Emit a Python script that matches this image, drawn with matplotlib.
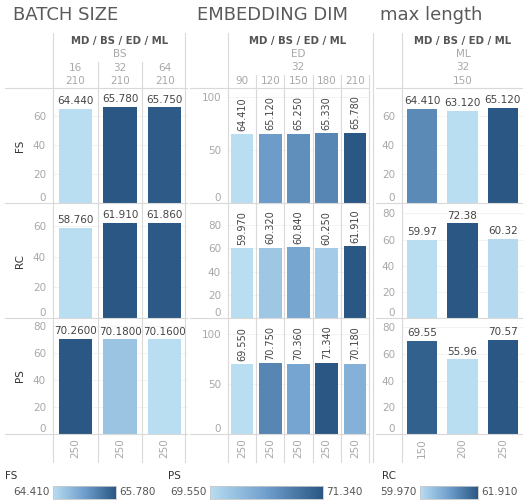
import numpy as np
import matplotlib.pyplot as plt
from matplotlib.colors import LinearSegmentedColormap, Normalize
from matplotlib.lines import Line2D

W, H = 523, 504

# ---- data ----
bs_cols = ["16", "32", "64"]
bs_fs = [64.44, 65.78, 65.75]
bs_rc = [58.76, 61.91, 61.86]
bs_ps = [70.26, 70.18, 70.16]

ed_cols = ["90", "120", "150", "180", "210"]
ed_fs = [64.41, 65.12, 65.25, 65.33, 65.78]
ed_rc = [59.97, 60.32, 60.84, 60.25, 61.91]
ed_ps = [69.55, 70.75, 70.36, 71.34, 70.18]

ml_cols = ["150"]
ml_fs = [64.41, 63.12, 65.12]
ml_rc = [59.97, 72.38, 60.32]
ml_ps = [69.55, 55.96, 70.57]

bs_bottom = ["250", "250", "250"]
ed_bottom = ["250", "250", "250", "250", "250"]
ml_bottom = ["150", "200", "250"]

row_names = ["FS", "RC", "PS"]

cmap = LinearSegmentedColormap.from_list("tab_blue", ["#b9ddf1", "#6f9fcd", "#2a5783"])
LC = "#d9d9d9"
GRAY = "#a8a8a8"

fig = plt.figure(figsize=(W / 100, H / 100), dpi=100)


def fx(x):
    return x / W


def fy(y):
    return 1 - y / H


def hline(x0, x1, y):
    fig.add_artist(Line2D([fx(x0), fx(x1)], [fy(y), fy(y)], transform=fig.transFigure, color=LC, lw=0.8))


def vline(x, y0, y1):
    fig.add_artist(Line2D([fx(x), fx(x)], [fy(y0), fy(y1)], transform=fig.transFigure, color=LC, lw=0.8))


def text(x, y, s, **kw):
    kw.setdefault("ha", "center")
    kw.setdefault("va", "center")
    fig.text(fx(x), fy(y), s, **kw)


rows_px = [(88, 203), (203, 318), (318, 434)]

panels = [
    dict(title="BATCH SIZE", tx=13, left=53, right=187, line_l=5, hx=120,
         sub=["BS"], cols=bs_cols, cols2=["210", "210", "210"],
         data=[bs_fs, bs_rc, bs_ps], bottom=bs_bottom,
         ylims=[79, 75, 86], ticks=[[0, 20, 40, 60], [0, 20, 40, 60], [0, 20, 40, 60, 80]],
         fmts=["{:.3f}", "{:.3f}", "{:.4f}"], rot=0, fs=7.5, bw=0.74),
    dict(title="EMBEDDING DIM", tx=197, left=228, right=369, line_l=190, hx=298,
         sub=["ED", "32"], cols=ed_cols, cols2=None,
         data=[ed_fs, ed_rc, ed_ps], bottom=ed_bottom,
         ylims=[108, 99, 116], ticks=[[0, 50, 100], [0, 20, 40, 60, 80], [0, 50, 100]],
         fmts=["{:.3f}", "{:.3f}", "{:.3f}"], rot=90, fs=7, bw=0.8),
    dict(title="max length", tx=380, left=402, right=523, line_l=376, hx=463,
         sub=["ML", "32"], cols=ml_cols, cols2=None,
         data=[ml_fs, ml_rc, ml_ps], bottom=ml_bottom,
         ylims=[79, 88, 87], ticks=[[0, 20, 40, 60], [0, 20, 40, 60, 80], [0, 20, 40, 60, 80]],
         fmts=["{:.3f}", "{:.2f}", "{:.2f}"], rot=0, fs=7.5, bw=0.75),
]

for p in panels:
    n = len(p["data"][0])
    text(p["tx"], 15, p["title"], ha="left", fontsize=13, color="#5a5a5a")
    text(p["hx"], 41, "MD / BS / ED / ML", fontsize=7.3, fontweight="bold", color="#555555")
    for k, s in enumerate(p["sub"]):
        text(p["hx"], 54 + 13.5 * k, s, fontsize=7.5, color=GRAY)
    colw = (p["right"] - p["left"]) / n
    if p["cols2"] is not None:
        for i in range(n):
            cx = p["left"] + colw * (i + 0.5)
            text(cx, 68, p["cols"][i], fontsize=7.5, color=GRAY)
            text(cx, 81, p["cols2"][i], fontsize=7.5, color=GRAY)
    elif len(p["cols"]) == n:
        for i in range(n):
            cx = p["left"] + colw * (i + 0.5)
            text(cx, 81, p["cols"][i], fontsize=7.5, color=GRAY)
    else:
        text(p["hx"], 81, p["cols"][0], fontsize=7.5, color=GRAY)

    for r, (y0, y1) in enumerate(rows_px):
        vals = p["data"][r]
        ax = fig.add_axes([fx(p["left"]), fy(y1), (p["right"] - p["left"]) / W, (y1 - y0) / H])
        norm = Normalize(min(vals), max(vals))
        ax.bar(range(n), vals, width=p["bw"], color=cmap(norm(vals)))
        ax.set_xlim(-0.5, n - 0.5)
        ax.set_ylim(0, p["ylims"][r])
        ax.set_yticks(p["ticks"][r])
        for s in ax.spines.values():
            s.set_visible(False)
        ax.yaxis.grid(True, color="#f1f1f1", lw=0.6)
        ax.set_axisbelow(True)
        ax.tick_params(axis="y", length=0, labelsize=7.5, labelcolor=GRAY, pad=5)
        ppu = (y1 - y0) / p["ylims"][r]
        labs = ax.get_yticklabels()
        labs[0].set_va("bottom")
        for t, lab in zip(p["ticks"][r], labs):
            if (p["ylims"][r] - t) * ppu < 6:
                lab.set_va("top")
        if r == 2:
            ax.set_xticks(range(n), p["bottom"], rotation=90)
            ax.tick_params(axis="x", length=0, labelsize=7.5, labelcolor=GRAY, pad=3)
        else:
            ax.set_xticks([])
        for i, v in enumerate(vals):
            if p["rot"] == 90:
                ax.annotate(p["fmts"][r].format(v), (i, v), xytext=(0, 2.5), textcoords="offset points",
                            ha="center", va="bottom", rotation=90, fontsize=p["fs"], color="#444444")
            else:
                ax.annotate(p["fmts"][r].format(v), (i, v), xytext=(0, 2), textcoords="offset points",
                            ha="center", va="bottom", fontsize=p["fs"], color="#444444")
        if p is panels[0]:
            text(20, (y0 + y1) / 2, row_names[r], rotation=90, fontsize=7.5, color="#333333")

    # grid lines of the table
    for y in [88, 203, 318, 434]:
        hline(p["line_l"], p["right"], y)
    vline(p["left"], 33, 462)
    for i in range(1, n):
        if p["cols2"] is not None:
            vline(p["left"] + colw * i, 62, 462)
        elif len(p["cols"]) == n:
            vline(p["left"] + colw * i, 75, 462)
    if len(p["cols"]) == n and p["cols2"] is None:
        vline(p["right"], 75, 462)

vline(185, 33, 462)
vline(373, 33, 462)

# ---- colour legends ----
legends = [("FS", ed_fs, 5, 53, 116), ("PS", ed_ps, 168, 210, 323), ("RC", ed_rc, 382, 420, 478)]
for name, vals, lx, c0, c1 in legends:
    text(lx, 476, name, ha="left", fontsize=7.5, color="#333333")
    text(c0 - 3, 492, "{:.3f}".format(min(vals)), ha="right", fontsize=7.5, color="#555555")
    text(c1 + 3, 492, "{:.3f}".format(max(vals)), ha="left", fontsize=7.5, color="#555555")
    cax = fig.add_axes([fx(c0), fy(499), (c1 - c0) / W, 13 / H])
    cax.imshow(np.linspace(0, 1, 256)[None, :], aspect="auto", cmap=cmap)
    cax.set_xticks([])
    cax.set_yticks([])
    for s in cax.spines.values():
        s.set_color("#c8c8c8")
        s.set_linewidth(0.6)

fig.savefig("out.png", dpi=100)
